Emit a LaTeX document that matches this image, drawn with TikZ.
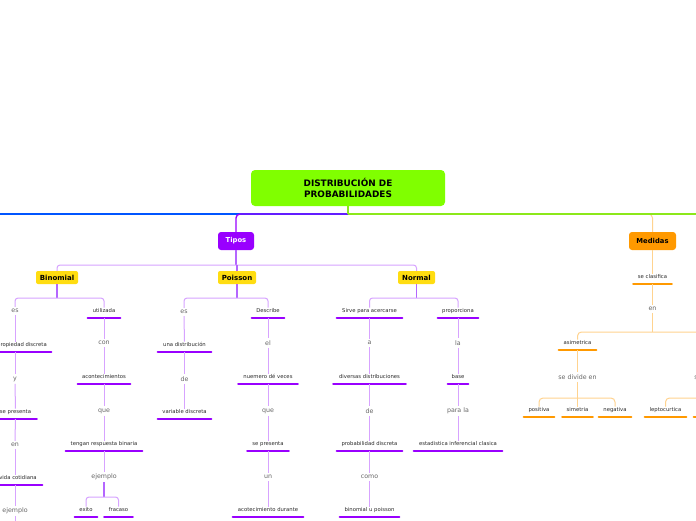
\documentclass[tikz,border=0pt]{standalone}
\usepackage{fontspec}
\setmainfont{DejaVu Sans}
\definecolor{ttlgreen}{HTML}{80FF00}
\definecolor{lgreen}{HTML}{8CE81A}
\definecolor{mblue}{HTML}{0055FF}
\definecolor{mpurple}{HTML}{9900FF}
\definecolor{lpurple}{HTML}{D7A3FF}
\definecolor{spurple}{HTML}{B466FF}
\definecolor{myellow}{HTML}{FFDD11}
\definecolor{morange}{HTML}{FF9900}
\definecolor{lorange}{HTML}{FFD38F}
\definecolor{wordgray}{HTML}{666666}
\definecolor{leafgray}{HTML}{2A2A2A}
\tikzset{
  ttlbox/.style={fill=ttlgreen, rounded corners=4pt, minimum width=194pt, minimum height=36pt,
    font=\fontsize{8.9}{11.5}\selectfont\bfseries, align=center, inner sep=0pt},
  mainbox/.style={rounded corners=3pt, minimum height=18pt, inner sep=0pt,
    font=\fontsize{6.8}{8}\selectfont\bfseries},
  typebox/.style={fill=myellow, rounded corners=2pt, minimum height=13pt, inner sep=0pt,
    font=\fontsize{7}{8}\selectfont\bfseries},
  leafbase/.style={anchor=base, yshift=-1.8pt, inner xsep=0pt, inner ysep=0pt,
    text height=5pt, text depth=5.2pt, minimum width=#1,
    font=\fontsize{5.3}{6}\selectfont, text=leafgray},
  ulp/.style={draw=mpurple, line width=2.5pt, line cap=round},
  ulo/.style={draw=morange, line width=2.5pt, line cap=round},
  leaf/.style={leafbase=#1, append after command={(\tikzlastnode.south west) edge[ulp] (\tikzlastnode.south east)}},
  oleaf/.style={leafbase=#1, append after command={(\tikzlastnode.south west) edge[ulo] (\tikzlastnode.south east)}},
  word/.style={font=\fontsize{6.3}{7}\selectfont, text=wordgray, inner sep=2.2pt},
  cblue/.style={draw=mblue, line width=1.4pt},
  cgreen/.style={draw=lgreen, line width=1.4pt},
  cpm/.style={draw=mpurple, line width=1.4pt},
  cps/.style={draw=spurple, line width=1.1pt},
  cpl/.style={draw=lpurple, line width=1pt},
  col/.style={draw=lorange, line width=1pt},
}
\begin{document}
\begin{tikzpicture}[x=1pt, y=-1pt]
\useasboundingbox (0,0) rectangle (696,520);
\clip (0,0) rectangle (696,520);
\fill[white] (0,0) rectangle (696,520);

% main nodes
\node[ttlbox] (ttl) at (348,188) {DISTRIBUCIÓN DE\\PROBABILIDADES};
\node[mainbox, fill=mpurple, text=white, minimum width=36pt] (tipos) at (236,241) {Tipos};
\node[mainbox, fill=morange, text=black, minimum width=47pt] (med) at (652.5,241) {Medidas};
\node[typebox, minimum width=42pt] (bin) at (57,277.5) {Binomial};
\node[typebox, minimum width=38pt] (pois) at (237,277.5) {Poisson};
\node[typebox, minimum width=37pt] (nor) at (416.5,277.5) {Normal};
\coordinate (J) at (348,214);
\coordinate (offL) at (-40,214);
\coordinate (offR) at (740,214);

% Binomial subtree
\node[word] (es1) at (15,311) {es};
\node[leaf=58pt] (pd) at (22,345) {propiedad discreta};
\node[word] (y) at (15,379) {y};
\node[leaf=42pt] (sp1) at (15.5,412) {se presenta};
\node[leaf=48pt] (vc) at (18,478) {vida cotidiana};
\node[word] (en1) at (15,445) {en};
\node[word] (ej1) at (15,511) {ejemplo};
\coordinate (ej1off) at (15,545);
\node[leaf=32pt] (util) at (104,311) {utilizada};
\node[word] (con) at (104,343) {con};
\node[leaf=52pt] (acon) at (104,377) {acontecimientos};
\node[word] (que1) at (104,411) {que};
\node[leaf=76pt] (teng) at (104,444) {tengan respuesta binaria};
\node[word] (ej2) at (104,477) {ejemplo};
\node[leaf=22pt] (exito) at (86,510) {exito};
\node[leaf=28pt] (fracaso) at (118.5,510) {fracaso};

% Poisson subtree
\node[word] (es2) at (184,312) {es};
\node[leaf=53pt] (ud) at (184.5,345) {una distribución};
\node[word] (de1) at (184.5,379) {de};
\node[leaf=53pt] (vd) at (184.5,412) {variable discreta};
\node[leaf=32pt] (desc) at (268,311) {Describe};
\node[word] (el) at (268,343) {el};
\node[leaf=59pt] (nv) at (268,377) {nuemero dé veces};
\node[word] (que2) at (268,411) {que};
\node[leaf=41pt] (sp2) at (268,444) {se presenta};
\node[word] (un) at (268,477) {un};
\node[leaf=70pt] (acd) at (268,510) {acotecimiento durante};

% Normal subtree
\node[leaf=65pt] (spa) at (369.5,311) {Sirve para acercarse};
\node[word] (a) at (369.5,343) {a};
\node[leaf=72pt] (dd) at (369.5,377) {diversas distribuciones};
\node[word] (de2) at (369.5,411) {de};
\node[leaf=65pt] (pdis) at (369.5,444) {probabilidad discreta};
\node[word] (como) at (369.5,477) {como};
\node[leaf=59pt] (bup) at (369.5,510) {binomial u poisson};
\node[leaf=40pt] (prop) at (458,311) {proporciona};
\node[word] (la) at (458,343) {la};
\node[leaf=20pt] (base) at (458,377) {base};
\node[word] (pla) at (458,411) {para la};
\node[leaf=88pt] (eic) at (458,444) {estadistica inferencial clasica};

% Medidas subtree
\node[oleaf=38pt] (secl) at (652.5,277) {se clasifica};
\node[word] (en2) at (652.5,309) {en};
\node[oleaf=37pt] (asim) at (577.5,343) {asimetrica};
\coordinate (curt) at (713,343);
\node[word] (sde1) at (577.5,377) {se divide en};
\node[word] (sde2) at (713.5,377) {se divide en};
\node[oleaf=30pt] (pos) at (539,410) {positiva};
\node[oleaf=30pt] (sim) at (577.5,410) {simetria};
\node[oleaf=32pt] (neg) at (615,410) {negativa};
\node[oleaf=41pt] (lep) at (665.5,410) {leptocurtica};
\node[oleaf=42pt] (meso) at (715,410) {};

% top connectors
\draw[cblue] (J) -- (offL);
\draw[col, rounded corners=4pt] (J) -| (med.north);
\draw[cgreen] (J) -- (offR);
\draw[cpm, rounded corners=4pt] (J) -| (tipos.north);
\draw[cgreen] (ttl.south) -- (J);

% Tipos to types
\draw[cps] (tipos.south) -- (tipos.south |- 0,265);
\draw[cpl, rounded corners=3pt] (bin.north) |- (pois.north |- 0,265) -| (nor.north);
\draw[cps] (pois.north |- 0,265) -- (pois.north);

% type forks
\draw[cps] (bin.south) -- (bin.south |- 0,298);
\draw[cpl, rounded corners=3pt] (es1.north) |- (util.north |- 0,298) -- (util.north);
\draw[cps] (pois.south) -- (pois.south |- 0,298);
\draw[cpl, rounded corners=3pt] (es2.north) |- (desc.north |- 0,298) -- (desc.north);
\draw[cps] (nor.south) -- (nor.south |- 0,298);
\draw[cpl, rounded corners=3pt] (spa.north) |- (prop.north |- 0,298) -- (prop.north);

% left column chain (kept vertical at x = 15)
\draw[cpl] (es1) -- (es1 |- pd.north);
\draw[cpl] (y |- pd.south) -- (y);
\draw[cpl] (y) -- (sp1);
\draw[cpl] (sp1) -- (en1);
\draw[cpl] (en1) -- (en1 |- vc.north);
\draw[cpl] (ej1 |- vc.south) -- (ej1);
\draw[cpl] (ej1) -- (ej1off);

% other chains
\foreach \p/\q in {util/con, con/acon, acon/que1, que1/teng, teng/ej2,
  es2/ud, ud/de1, de1/vd,
  desc/el, el/nv, nv/que2, que2/sp2, sp2/un, un/acd,
  spa/a, a/dd, dd/de2, de2/pdis, pdis/como, como/bup,
  prop/la, la/base, base/pla, pla/eic}
  \draw[cpl] (\p) -- (\q);

% exito / fracaso fork
\draw[cps] (ej2) -- (ej2 |- 0,497);
\draw[cpl, rounded corners=3pt] (exito.north) |- (fracaso.north |- 0,497) -- (fracaso.north);

% Medidas connectors
\draw[col] (med) -- (secl);
\draw[col] (secl) -- (en2);
\draw[col] (en2) -- (en2 |- 0,332);
\draw[col, rounded corners=4pt] (asim.north) |- (en2 |- 0,332) -| (curt);
\draw[col] (asim) -- (sde1);
\draw[col] (curt) -- (sde2);
\draw[col] (sde1) -- (sde1 |- 0,398);
\draw[col, rounded corners=4pt] (pos.north) |- (sim.north |- 0,398) -| (neg.north);
\draw[col] (sde1 |- 0,398) -- (sim.north);
\draw[col] (sde2) -- (sde2 |- 0,398);
\draw[col, rounded corners=4pt] (lep.north) |- (sde2 |- 0,398) -| (meso.north);
\end{tikzpicture}
\end{document}
